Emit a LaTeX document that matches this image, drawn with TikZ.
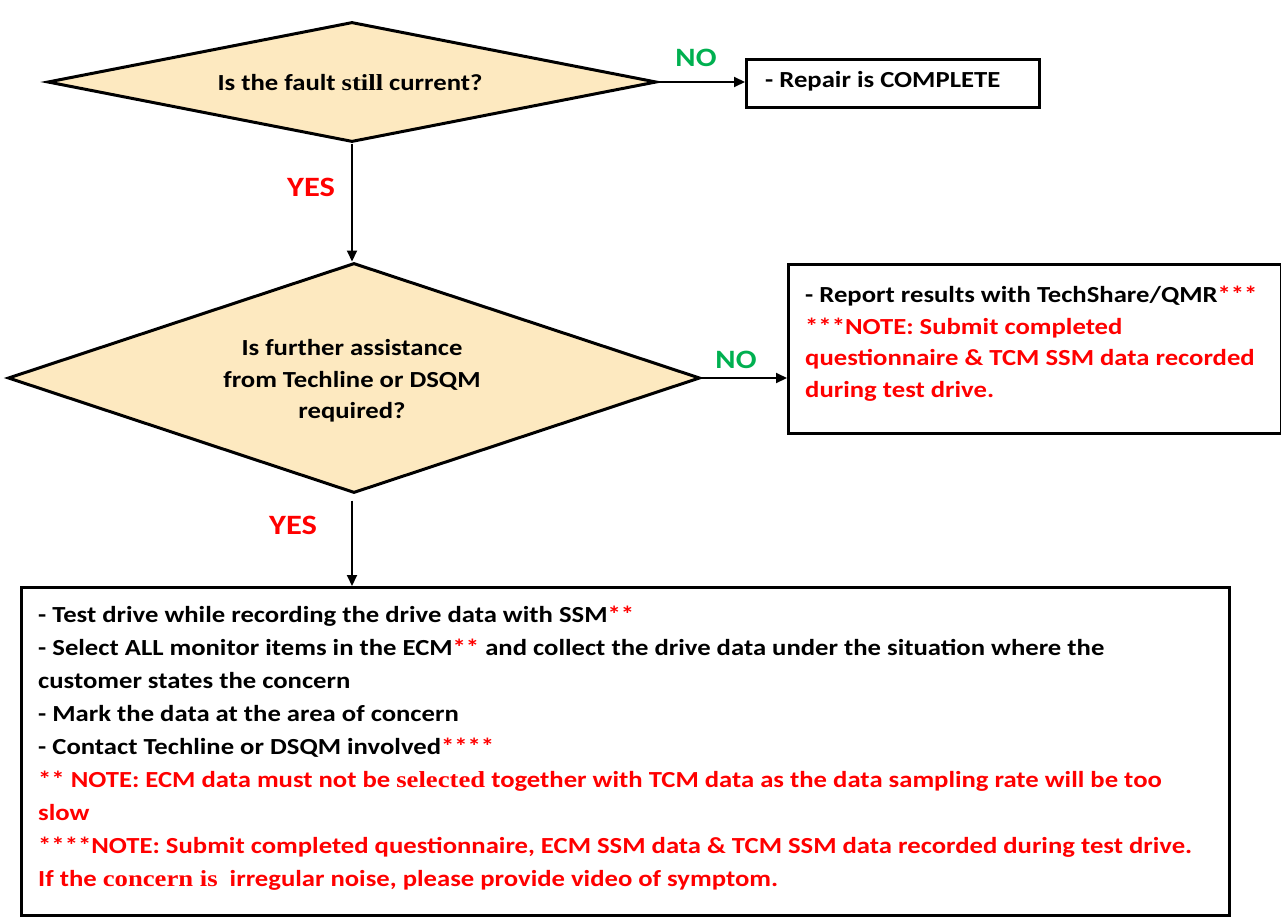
\documentclass[tikz,border=0pt]{standalone}
\usepackage{fontspec}
\setmainfont{Carlito}[FakeStretch=1.16]
\newfontfamily\serifb{Liberation Serif}[FakeStretch=1.16]
\usetikzlibrary{shapes.geometric,arrows.meta}
\definecolor{dfill}{RGB}{253,233,192}
\definecolor{nored}{RGB}{255,0,0}
\definecolor{nogreen}{RGB}{0,176,80}
\tikzset{
  decision/.style={diamond, draw=black, line width=3pt, fill=dfill, inner sep=0pt},
  box/.style={rectangle, draw=black, line width=2.5pt, fill=white, inner sep=0pt, anchor=north west},
  dtext/.style={font=\bfseries\fontsize{23}{31.5}\selectfont, align=center, inner sep=0pt},
  btext/.style={font=\bfseries\fontsize{23}{33}\selectfont, align=left, inner sep=0pt, anchor=north west},
  arr/.style={-{Triangle[length=11pt,width=10pt]}, line width=2pt},
  yeslbl/.style={text=nored, font=\bfseries\fontsize{28}{30}\selectfont, inner sep=0pt},
  nolbl/.style={text=nogreen, font=\bfseries\fontsize{26.5}{28}\selectfont, inner sep=0pt},
}
\newcommand{\rd}[1]{\textcolor{nored}{#1}}
\begin{document}
\begin{tikzpicture}[x=1pt,y=-1pt]
\useasboundingbox (0,0) rectangle (1281,918);
\fill[white] (0,0) rectangle (1281,918);
% decision 1
\node[decision, minimum width=609pt, minimum height=120pt] (d1) at (352,82) {};
\node[dtext] (t1) at (350,83) {Is the fault {\serifb\bfseries still} current?};
% box 1
\node[box, minimum width=293pt, minimum height=48pt] (b1) at (745,58) {};
\node[btext, anchor=west] (bt1) at (765,81) {- Repair is COMPLETE};
\draw[arr] (d1.east) -- (b1.west |- d1.east);
\node[nolbl] (no1) at (696,58) {NO};
% decision 2
\node[decision, minimum width=692pt, minimum height=230pt] (d2) at (354,378) {};
\node[dtext] (t2) at (352,381) {Is further assistance\\from Techline or DSQM\\required?};
\draw[arr] (d1.south) -- (d1.south |- d2.north);
\node[yeslbl] (yes1) at (311,187) {YES};
% box 2
\node[box, minimum width=493pt, minimum height=169pt] (b2) at (787,263) {};
\node[btext, font=\bfseries\fontsize{23}{31.5}\selectfont] (bt2) at (805,286) {- Report results with TechShare/QMR\rd{***}\\
\rd{***NOTE: Submit completed}\\
\rd{questionnaire \& TCM SSM data recorded}\\
\rd{during test drive.}};
\draw[arr] (d2.east) -- (b2.west |- d2.east);
\node[nolbl] (no2) at (736,360) {NO};
% box 3
\node[box, minimum width=1208pt, minimum height=328pt] (b3) at (20,586) {};
\node[btext] (bt3) at (38,606) {- Test drive while recording the drive data with SSM\rd{**}\\
- Select ALL monitor items in the ECM\rd{**} and collect the drive data under the situation where the\\
customer states the concern\\
- Mark the data at the area of concern\\
- Contact Techline or DSQM involved\rd{****}\\
\rd{** NOTE: ECM data must not be {\serifb\bfseries selected} together with TCM data as the data sampling rate will be too}\\
\rd{slow}\\
\rd{****NOTE: Submit completed questionnaire, ECM SSM data \& TCM SSM data recorded during test drive.}\\
\rd{If the {\serifb\bfseries concern is}\ \ irregular noise, please provide video of symptom.}};
\draw[arr] ([yshift=-6pt]d1.south |- d2.south) -- (d1.south |- b3.north);
\node[yeslbl] (yes2) at (293,525) {YES};
\end{tikzpicture}
\end{document}
